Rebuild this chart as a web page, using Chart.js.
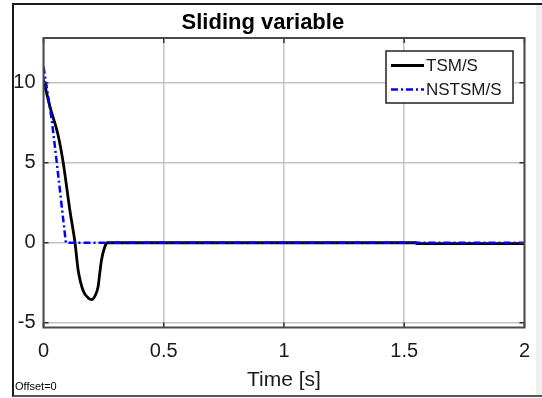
<!DOCTYPE html>
<html>
<head>
<meta charset="utf-8">
<script src="https://cdn.jsdelivr.net/npm/chart.js@4"></script>
<style>
  html, body { margin: 0; padding: 0; background: #fff; }
  body { width: 542px; height: 398px; position: relative; overflow: hidden; }
  /* scope window frame */
  #frame {
    position: absolute; left: 12px; top: 3px; width: 540px; height: 390px;
    border-top: 2px solid #1a1a1a; border-left: 2px solid #1a1a1a; border-bottom: 2px solid #555;
    background: linear-gradient(to right, #fff 0, #fff 522px, #efefef 522px);
  }
  #chart { position: absolute; left: 0; top: 0; }
</style>
</head>
<body>
<div id="frame"></div>
<canvas id="chart" width="542" height="398"></canvas>
<script>
// Series
const tsmTime = [0, 0.027, 0.061, 0.082, 0.11, 0.131, 0.144, 0.165, 0.186, 0.202, 0.215, 0.227, 0.234, 0.241, 0.255, 0.266, 1.55, 1.551, 2];
const tsmValues = [10.2, 8.5, 6.7, 5.0, 2.0, 0, -1.7, -3.0, -3.45, -3.55, -3.3, -2.75, -1.9, -1.1, -0.25, 0, 0, -0.06, -0.06];

const nstsmTime = [0, 0.013, 0.034, 0.055, 0.076, 0.093, 2];
const nstsmValues = [11, 9.75, 7.7, 5.05, 2.25, 0, 0];

const yTicks = [-5, 0, 5, 10];
const xTicks = [0, 0.5, 1, 1.5, 2];

const FONT = "'Liberation Sans', Arial, sans-serif";
const BLUE_DASH = [7, 3, 2, 3];

function toPoints(xs, ys) {
  return xs.map((x, i) => ({ x: x, y: ys[i] }));
}

// plot box, inward ticks, legend and the offset note
const scopeDecor = {
  id: 'scopeDecor',
  afterDatasetsDraw(chart) {
    const { ctx, chartArea: a, scales } = chart;
    ctx.save();
    // inward tick marks on all four sides
    ctx.strokeStyle = '#333';
    ctx.lineWidth = 1.5;
    ctx.beginPath();
    xTicks.forEach(v => {
      const px = scales.x.getPixelForValue(v);
      ctx.moveTo(px, a.bottom); ctx.lineTo(px, a.bottom - 5);
      ctx.moveTo(px, a.top); ctx.lineTo(px, a.top + 5);
    });
    yTicks.forEach(v => {
      const py = scales.y.getPixelForValue(v);
      ctx.moveTo(a.left, py); ctx.lineTo(a.left + 5, py);
      ctx.moveTo(a.right, py); ctx.lineTo(a.right - 5, py);
    });
    ctx.stroke();
    ctx.strokeStyle = '#4a4a4a';
    ctx.lineWidth = 2;
    ctx.strokeRect(a.left, a.top, a.right - a.left, a.bottom - a.top);

    // legend
    const lx = 386, ly = 51, lw = 127, lh = 52;
    ctx.fillStyle = '#fff';
    ctx.fillRect(lx, ly, lw, lh);
    ctx.strokeStyle = '#222';
    ctx.lineWidth = 1.5;
    ctx.strokeRect(lx, ly, lw, lh);
    ctx.font = '17px ' + FONT;
    ctx.textBaseline = 'middle';
    ctx.textAlign = 'left';
    chart.data.datasets.forEach((ds, i) => {
      const ry = 65.5 + i * 24;
      ctx.beginPath();
      ctx.strokeStyle = ds.borderColor;
      ctx.lineWidth = ds.borderWidth;
      ctx.setLineDash(ds.borderDash || []);
      ctx.moveTo(391, ry); ctx.lineTo(424, ry);
      ctx.stroke();
      ctx.setLineDash([]);
      ctx.fillStyle = '#1a1a1a';
      ctx.fillText(ds.label, 426, ry + 1);
    });

    // offset note
    ctx.font = '11px ' + FONT;
    ctx.fillStyle = '#000';
    ctx.textBaseline = 'alphabetic';
    ctx.fillText('Offset=0', 15, 390);
    ctx.restore();
  }
};

new Chart(document.getElementById('chart'), {
  type: 'line',
  data: {
    datasets: [
      {
        label: 'TSM/S',
        data: toPoints(tsmTime, tsmValues),
        borderColor: '#000',
        borderWidth: 2.8,
        cubicInterpolationMode: 'monotone',
        pointRadius: 0,
        order: 1
      },
      {
        label: 'NSTSM/S',
        data: toPoints(nstsmTime, nstsmValues),
        borderColor: '#0000ff',
        borderWidth: 2.5,
        borderDash: BLUE_DASH,
        tension: 0,
        pointRadius: 0,
        order: 0
      }
    ]
  },
  options: {
    responsive: false,
    animation: false,
    layout: { padding: { left: 0, right: 16.3, top: 0, bottom: 0 } },
    plugins: {
      legend: { display: false },
      tooltip: { enabled: false },
      title: {
        display: true,
        text: 'Sliding variable',
        color: '#000',
        font: { family: FONT, size: 22, weight: 'bold', lineHeight: 1.2 },
        padding: { top: 9.6, bottom: 2 }
      }
    },
    scales: {
      x: {
        type: 'linear',
        min: 0,
        max: 2,
        afterBuildTicks: s => { s.ticks = xTicks.map(v => ({ value: v })); },
        afterFit: s => { s.height = 70.5; },
        ticks: {
          color: '#1a1a1a',
          font: { family: FONT, size: 20 },
          padding: 12,
          maxRotation: 0,
          callback: v => String(v)
        },
        grid: { color: '#c3c3c3', lineWidth: 1.5, drawTicks: false },
        border: { display: false },
        title: {
          display: true,
          text: 'Time [s]',
          color: '#1a1a1a',
          font: { family: FONT, size: 21, lineHeight: 1.2 },
          padding: { top: 0, bottom: 5.4 }
        }
      },
      y: {
        type: 'linear',
        min: -5.3,
        max: 12.8,
        afterBuildTicks: s => { s.ticks = yTicks.map(v => ({ value: v })); },
        afterFit: s => { s.width = 43.5; },
        ticks: {
          color: '#1a1a1a',
          font: { family: FONT, size: 20 },
          padding: 8,
          callback: v => String(v)
        },
        grid: { color: '#c3c3c3', lineWidth: 1.5, drawTicks: false },
        border: { display: false }
      }
    }
  },
  plugins: [scopeDecor]
});
</script>
</body>
</html>
